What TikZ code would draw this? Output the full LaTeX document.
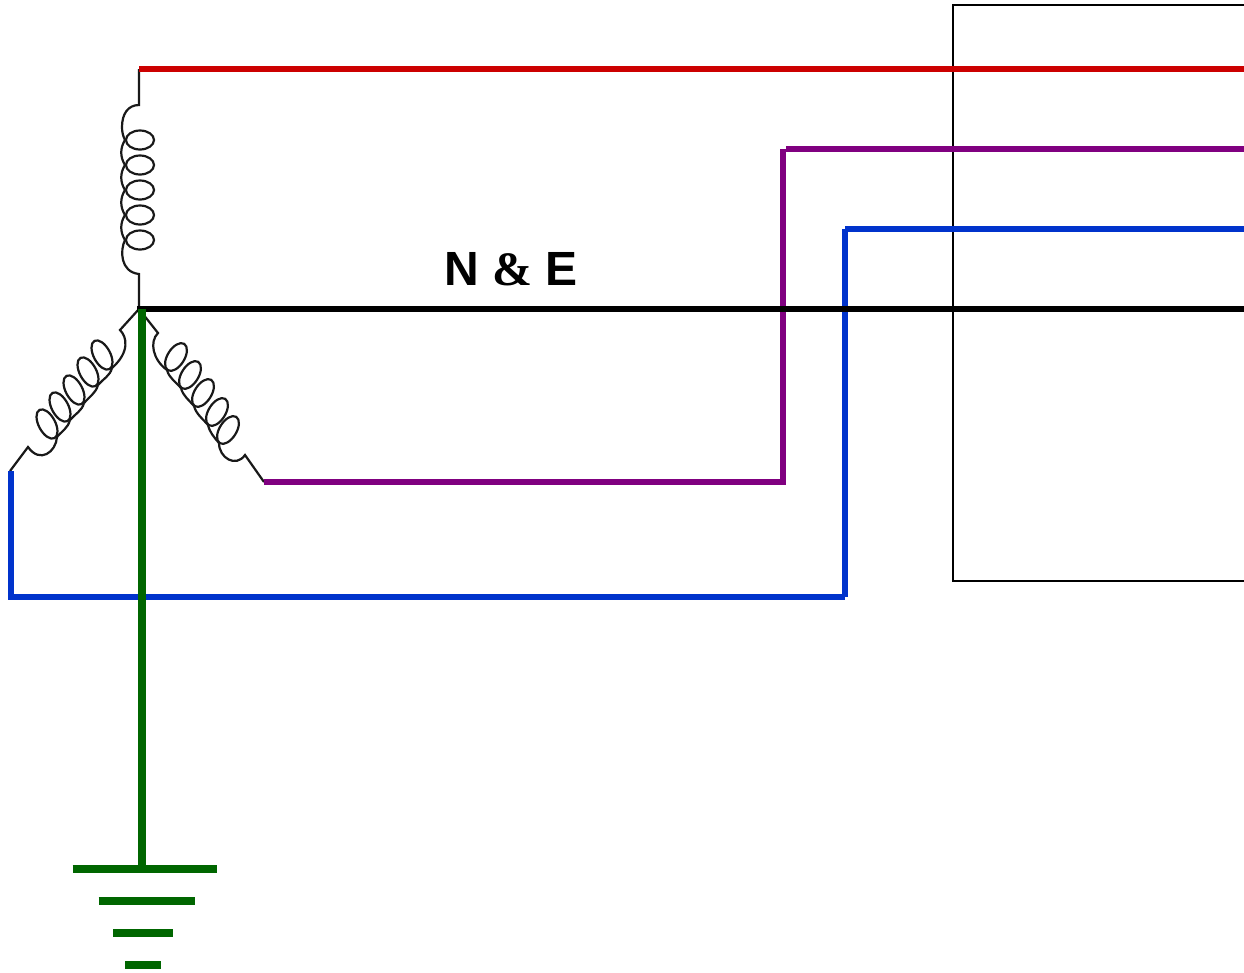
\documentclass[tikz,border=0pt]{standalone}
\usepackage{fontspec}
\setmainfont{Liberation Sans}
\newfontfamily\ampfont{Liberation Serif}
\usetikzlibrary{positioning}

\definecolor{phasered}{HTML}{CC0000}
\definecolor{phasepurple}{HTML}{800080}
\definecolor{phaseblue}{HTML}{0033CC}
\definecolor{earthgreen}{HTML}{006600}

\begin{document}
\begin{tikzpicture}[
          x=1pt, y=-1pt,
          coilwire/.style={draw=black!90, line width=2.2pt},
          cable/.style={line width=6pt},
          casebox/.style={draw, line width=1.7pt},
          earthbar/.style={draw=earthgreen, line width=8pt}
        ]
        \useasboundingbox (0,0) rectangle (1244,972);

        \coordinate (star) at (139,309);
        \coordinate (topend) at (139,69);
        \coordinate (leftend) at (10,471);
        \coordinate (rightend) at (264,482);
        \coordinate (redout) at (1244,69);
        \coordinate (purpleout) at (1244,149);
        \coordinate (blueout) at (1244,229);
        \coordinate (blackout) at (1244,309);

        % load box, right side runs off the picture
        \draw[casebox] (1246,5) -- (953,5) -- (953,581) -- (1246,581);

        % upper winding
        \draw[coilwire] (topend) -- (139,105) .. controls (128,105) and (122,114) .. (122,127)
          .. controls (122,132) and (123,136) .. (125,140);
        \foreach \cy in {140,165,190,215,240} {
          \draw[coilwire] (140,\cy) circle [x radius=14, y radius=9.5];
        }
        \foreach \cy in {140,165,190,215} {
          \draw[coilwire] (125,\cy) .. controls (120,{\cy+8}) and (120,{\cy+17}) .. (125,{\cy+25});
        }
        \draw[coilwire] (125,240) .. controls (120,250) and (120,272) .. (139,274) -- (star);

        % left winding
        \draw[coilwire] (star) -- (120,330) .. controls (127,337) and (130,352) .. (112,368);
        \foreach \cx/\cy in {102/355,88/372,74/390,60/407,47/424} {
          \draw[coilwire] (\cx,\cy) circle [x radius=16, y radius=8.3, rotate=-62];
        }
        \foreach \cx/\cy/\dx/\dy in {102/355/-14/17,88/372/-14/18,74/390/-14/17,60/407/-13/17} {
          \draw[coilwire] ({\cx+10},{\cy+13}) .. controls ({\cx+8},{\cy+21}) and ({\cx+\dx+15},{\cy+\dy+7}) .. ({\cx+\dx+10},{\cy+\dy+13});
        }
        \draw[coilwire] (57,437) .. controls (56,452) and (40,464) .. (28,447) -- (leftend);

        % right winding
        \draw[coilwire] (star) -- (158,333) .. controls (149,342) and (153,360) .. (167,370);
        \foreach \cx/\cy in {176/357,190/375,203/393,217/412,228/430} {
          \draw[coilwire] (\cx,\cy) circle [x radius=15.5, y radius=8.5, rotate=58];
        }
        \foreach \cx/\cy/\dx/\dy in {176/357/14/18,190/375/13/18,203/393/14/19,217/412/11/18} {
          \draw[coilwire] ({\cx-9},{\cy+13}) .. controls ({\cx-7},{\cy+21}) and ({\cx+\dx-14},{\cy+\dy+7}) .. ({\cx+\dx-9},{\cy+\dy+13});
        }
        \draw[coilwire] (219,443) .. controls (219,458) and (236,468) .. (245,455) -- (rightend);

        % phases, the risers butt against the runs to the box
        \draw[cable, draw=phasered] (topend) -- (redout);
        \draw[cable, draw=phasepurple] (rightend) -- (783,482) -- (783,149);
        \draw[cable, draw=phasepurple] (786,149) -- (purpleout);
        \draw[cable, draw=phaseblue] (11,471) -- (11,597) -- (845,597);
        \draw[cable, draw=phaseblue] (845,597) -- (845,229);
        \draw[cable, draw=phaseblue] (845,229) -- (blueout);
        \draw[cable, draw=black] ([xshift=-2pt]star) -- (blackout);

        \node [anchor=base, inner sep=0pt, font=\bfseries\fontsize{48}{48}\selectfont] (nelabel) at (511,285) {N {\ampfont\&} E};

        % earth
        \node [coordinate] (earthtop) at (141.5,309) {};
        \node [coordinate] (earthbottom) at (141.5,869) {};
        \draw[earthbar] (earthtop) -- (earthbottom);
        \draw[earthbar] (72.5,869) -- (216.5,869);
        \draw[earthbar] (98.5,901) -- (195,901);
        \draw[earthbar] (113,933) -- (173,933);
        \draw[earthbar] (125,965) -- (161,965);
        \end{tikzpicture}
\end{document}
